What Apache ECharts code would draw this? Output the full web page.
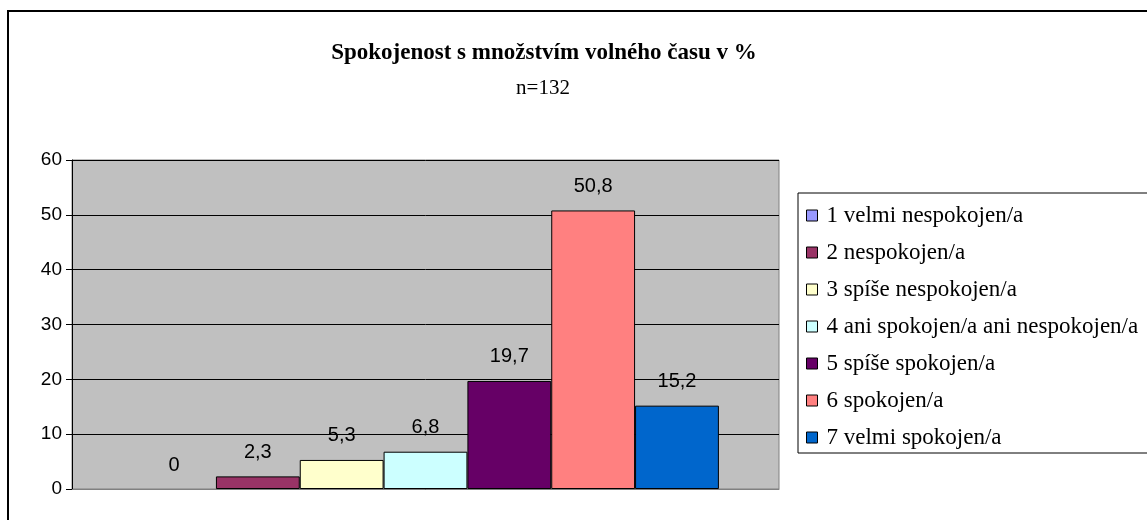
<!DOCTYPE html>
<html>
<head>
<meta charset="utf-8">
<script src="https://cdn.jsdelivr.net/npm/echarts@6/dist/echarts.min.js"></script>
<style>
html, body { margin: 0; padding: 0; background: #fff; }
#chart { width: 1147px; height: 520px; }
</style>
</head>
<body>
<div id="chart"></div>
<script>
// data
var names = [
    '1 velmi nespokojen/a',
    '2 nespokojen/a',
    '3 spíše nespokojen/a',
    '4 ani spokojen/a ani nespokojen/a',
    '5 spíše spokojen/a',
    '6 spokojen/a',
    '7 velmi spokojen/a'
];
var values = [0, 2.3, 5.3, 6.8, 19.7, 50.8, 15.2];
var colors = ['#9999FF', '#993366', '#FFFFCC', '#CCFFFF', '#660066', '#FF8080', '#0066CC'];
var yTicks = { min: 0, max: 60, interval: 10 };

var myChart = echarts.init(document.getElementById('chart'));

var series = names.map(function (n, i) {
    return {
        name: n,
        type: 'bar',
        barGap: '0%',
        barCategoryGap: '17%',
        // a zero bar shows no outline in the original
        data: [{ value: values[i], itemStyle: values[i] === 0 ? { borderWidth: 0 } : {} }],
        itemStyle: { color: colors[i], borderColor: '#000', borderWidth: 1 },
        label: {
            show: true,
            position: 'top',
            distance: 14,
            color: '#000',
            fontFamily: 'Liberation Sans',
            fontSize: 20,
            formatter: function (p) { return String(p.value).replace('.', ','); }
        },
        silent: true
    };
});

var option = {
    animation: false,
    color: colors,
    graphic: [
        { type: 'rect', shape: { x: 8, y: 11, width: 1300, height: 700 },
          style: { fill: null, stroke: '#000', lineWidth: 2 }, z: -10 },
        { type: 'text', x: 544, y: 53,
          style: { text: 'Spokojenost s množstvím volného času v %', textAlign: 'center', textVerticalAlign: 'middle',
                   font: 'bold 23px "Liberation Serif"', fill: '#000' } },
        { type: 'text', x: 543, y: 88,
          style: { text: 'n=132', textAlign: 'center', textVerticalAlign: 'middle',
                   font: '21px "Liberation Serif"', fill: '#000' } }
    ],
    grid: {
        left: 72, right: 368, top: 160, bottom: 31,
        show: true, backgroundColor: '#C0C0C0', borderColor: '#808080', borderWidth: 1
    },
    legend: {
        orient: 'vertical',
        left: 798, top: 193,
        data: names,
        icon: 'rect',
        itemWidth: 11, itemHeight: 11,
        itemGap: 14,
        padding: [11, 60, 4, 8],
        borderColor: '#000', borderWidth: 1,
        selectedMode: false,
        itemStyle: { borderColor: '#000', borderWidth: 1 },
        textStyle: { fontFamily: 'Liberation Serif', fontSize: 23, color: '#000', padding: [0, 0, 0, 4] }
    },
    xAxis: {
        type: 'category',
        data: [''],
        axisLine: { lineStyle: { color: '#808080' } },
        axisTick: { show: false },
        axisLabel: { show: false }
    },
    yAxis: {
        type: 'value',
        min: yTicks.min, max: yTicks.max, interval: yTicks.interval,
        axisLine: { show: true, lineStyle: { color: '#000' } },
        axisTick: { show: true, length: 6, lineStyle: { color: '#000' } },
        axisLabel: { color: '#000', fontFamily: 'Liberation Sans', fontSize: 19, margin: 10 },
        splitLine: { lineStyle: { color: '#000', width: 1 } }
    },
    series: series
};

myChart.setOption(option);
</script>
</body>
</html>
